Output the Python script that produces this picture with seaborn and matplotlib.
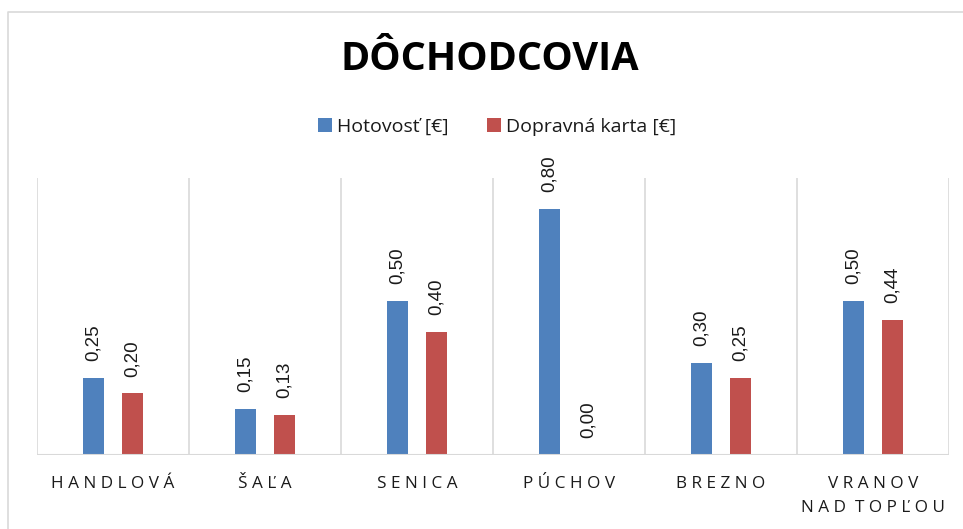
import matplotlib
matplotlib.use("Agg")
import matplotlib.pyplot as plt
from matplotlib.lines import Line2D
from matplotlib.patches import Patch
import seaborn as sns
import pandas as pd

# Data
towns = ["HANDLOVÁ", "ŠAĽA", "SENICA", "PÚCHOV", "BREZNO", "VRANOV\nNAD TOPĽOU"]
series_names = ["Hotovosť [€]", "Dopravná karta [€]"]
cash = [0.25, 0.15, 0.50, 0.80, 0.30, 0.50]
card = [0.20, 0.13, 0.40, 0.00, 0.25, 0.44]
colors = ["#4F81BD", "#C0504D"]
title = "DÔCHODCOVIA"

df = pd.DataFrame({
    "town": towns * 2,
    "series": [series_names[0]] * len(towns) + [series_names[1]] * len(towns),
    "value": cash + card,
})

sns.set_theme(style="white")
plt.rcParams["font.family"] = ["Open Sans", "DejaVu Sans"]

W, H = 963, 529
fig = plt.figure(figsize=(W / 100, H / 100), dpi=100)
ax = fig.add_axes([37 / W, 1 - 455 / H, (949 - 37) / W, (455 - 178) / H])

sns.barplot(data=df, x="town", y="value", hue="series", order=towns,
            hue_order=series_names, palette=colors, width=0.513, gap=0.46,
            saturation=1, legend=False, ax=ax, linewidth=0)

ax.set_xlim(-0.5, len(towns) - 0.5)
ax.set_ylim(0, 0.9)
ax.set_yticks([])
ax.set_xlabel("")
ax.set_ylabel("")
for s in ax.spines.values():
    s.set_visible(False)

# Vertical separators between categories and the baseline
grid_c = "#D9D9D9"
for b in range(len(towns) + 1):
    ax.axvline(b - 0.5, color=grid_c, lw=1.2, zorder=0)
ax.axhline(0, color=grid_c, lw=1.5, zorder=3)

# Letter-spaced category labels
def spaced(s):
    return "\n".join("  ".join(" ".join(w) for w in line.split(" ")) for line in s.split("\n"))

ax.set_xticks(range(len(towns)))
ax.set_xticklabels([spaced(t) for t in towns], fontsize=12.3, color="#1a1a1a",
                   linespacing=1.7)
ax.tick_params(axis="x", length=0, pad=15)

# Value labels
for cont, vals in zip(ax.containers, [cash, card]):
    ax.bar_label(cont, labels=[f"{v:.2f}".replace(".", ",") for v in vals],
                 rotation=90, padding=12, fontsize=13.5, color="#1a1a1a",
                 family=["Liberation Sans", "DejaVu Sans"])

# Title and legend
fig.text(490 / W, 1 - 60 / H, title, ha="center", va="center",
         fontsize=28.5, fontweight="bold", color="black")

handles = [Patch(facecolor=c, edgecolor="none") for c in colors]
fig.legend(handles, series_names, loc="center", bbox_to_anchor=(497 / W, 1 - 127 / H),
           ncol=2, frameon=False, fontsize=14, handlelength=0.72, handleheight=0.72,
           handletextpad=0.25, columnspacing=2.0, labelcolor="#1a1a1a")

# Chart area border
fig.add_artist(Line2D([8 / W, 8 / W, 1.0], [0.0, 1 - 12 / H, 1 - 12 / H],
                      transform=fig.transFigure, color=grid_c, lw=1.2))

fig.savefig("out.png", dpi=100)
